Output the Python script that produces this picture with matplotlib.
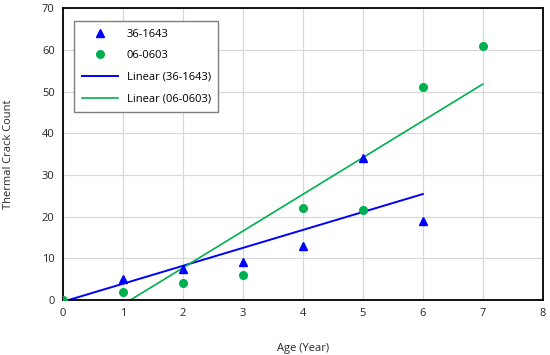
import numpy as np
import matplotlib
matplotlib.use('Agg')
import matplotlib.pyplot as plt

plt.rcParams['font.family'] = ['Open Sans', 'DejaVu Sans']

# Data
age_a = [0, 1, 2, 3, 4, 5, 6]
cracks_a = [0, 5, 7.5, 9, 13, 34, 19]          # 36-1643
age_b = [0, 1, 2, 3, 4, 5, 6, 7]
cracks_b = [0, 2, 4, 6, 22, 21.5, 51, 61]      # 06-0603

blue = '#0000FF'
green = '#00B050'

fig = plt.figure(figsize=(5.5, 3.55), dpi=100)
ax = fig.add_axes([0.1145, 0.155, 0.8725, 0.822])

ax.plot(age_a, cracks_a, '^', color=blue, markersize=5.5, label='36-1643', zorder=3)
ax.plot(age_b, cracks_b, 'o', color=green, markersize=5.5, label='06-0603', zorder=3)

# Linear trend lines
fa = np.polyfit(age_a, cracks_a, 1)
fb = np.polyfit(age_b, cracks_b, 1)
xa = np.array([min(age_a), max(age_a)])
xb = np.array([min(age_b), max(age_b)])
ax.plot(xa, np.polyval(fa, xa), color=blue, lw=1.4, label='Linear (36-1643)', zorder=2)
ax.plot(xb, np.polyval(fb, xb), color=green, lw=1.2, label='Linear (06-0603)', zorder=2)

ax.set_xlim(0, 8)
ax.set_ylim(0, 70)
ax.set_xticks(range(0, 9))
ax.set_yticks(range(0, 71, 10))
ax.grid(True, color='#D9D9D9', lw=0.9)
ax.set_axisbelow(True)
for s in ax.spines.values():
    s.set_color('black')
    s.set_linewidth(1.3)
ax.tick_params(length=0, labelsize=8, colors='#262626', pad=6)

ax.set_xlabel('Age (Year)', fontsize=8, color='#262626', labelpad=17)
ax.set_ylabel('Thermal Crack Count', fontsize=8, color='#262626', labelpad=20)

leg = ax.legend(loc='upper left', bbox_to_anchor=(0.012, 0.975), fontsize=8,
                fancybox=False, edgecolor='#7F7F7F', framealpha=1,
                borderpad=0.7, labelspacing=0.95, handlelength=3.2)
leg.get_frame().set_linewidth(1.0)

fig.savefig('out.png', dpi=100)
